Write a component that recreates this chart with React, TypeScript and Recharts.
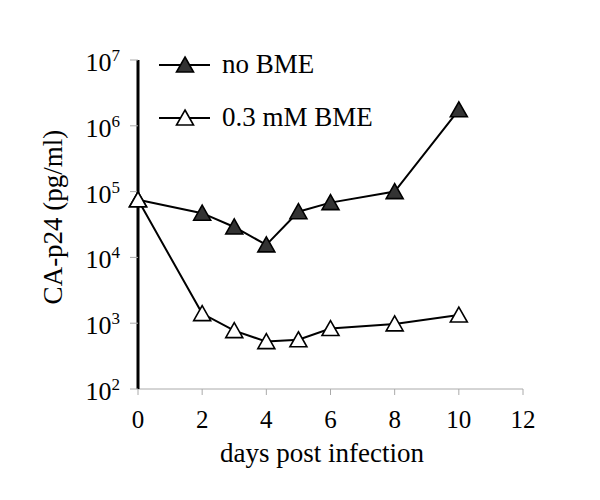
import { LineChart, Line, XAxis, YAxis } from "recharts"

const days = [0, 2, 3, 4, 5, 6, 8, 10]
const noBme = [75000, 47000, 29000, 15500, 49500, 68000, 100000, 1750000]
const bme = [75000, 1400, 770, 525, 560, 830, 975, 1330]
const xTicks = [0, 2, 4, 6, 8, 10, 12]
const yTicks = [100, 1000, 10000, 100000, 1000000, 10000000]

const data = days.map((d, i) => ({ day: d, noBme: noBme[i], bme: bme[i] }))

const FONT = "'Liberation Serif', 'Times New Roman', serif"

function Triangle(props: any) {
  const { cx, cy, fill } = props
  if (cx == null || cy == null) return null
  return (
    <polygon
      points={`${cx},${cy - 8} ${cx + 8.5},${cy + 7} ${cx - 8.5},${cy + 7}`}
      fill={fill}
      stroke="#000"
      strokeWidth={1.6}
    />
  )
}

function YTick(props: any) {
  const { x, y, payload } = props
  const exp = Math.round(Math.log10(payload.value))
  return (
    <text x={x} y={y + 11} textAnchor="end" fontFamily={FONT} fontSize={26} fill="#000">
      10
      <tspan dy={-10} fontSize={17}>{exp}</tspan>
    </text>
  )
}

function XTick(props: any) {
  const { x, y, payload } = props
  return (
    <text x={x} y={y + 33} textAnchor="middle" fontFamily={FONT} fontSize={25} fill="#000">
      {payload.value}
    </text>
  )
}

// legend drawn over the chart, no layout offset
function LegendBox() {
  const rows = [
    { label: "no BME", fill: "#333", y: 17 },
    { label: "0.3 mM BME", fill: "#fff", y: 70 },
  ]
  return (
    <svg width={260} height={95} style={{ position: "absolute", left: 140, top: 40 }}>
      {rows.map((r) => (
        <g key={r.label}>
          <line x1={11} x2={62} y1={r.y} y2={r.y} stroke="#000" strokeWidth={2} />
          <Triangle cx={37} cy={r.y} fill={r.fill} />
          <text x={74} y={r.y + 8} fontFamily={FONT} fontSize={27} fill="#000">
            {r.label}
          </text>
        </g>
      ))}
    </svg>
  )
}

export default function App() {
  return (
    <div style={{ position: "relative", width: 592, height: 492 }}>
      <LineChart
        width={592}
        height={492}
        data={data}
        margin={{ top: 52, right: 77, bottom: 71, left: 60 }}
      >
        <XAxis
          dataKey="day"
          type="number"
          domain={[0, 12]}
          ticks={xTicks}
          height={40}
          axisLine={{ stroke: "#aaa", strokeWidth: 1 }}
          tickLine={{ stroke: "#aaa" }}
          tickSize={6}
          tickMargin={0}
          tick={<XTick />}
          label={{
            content: () => (
              <text x={314} y={454} textAnchor="middle" fontFamily={FONT} fontSize={27} fill="#000">
                days post infection
              </text>
            ),
          }}
        />
        <YAxis
          scale="log"
          domain={[100, 10000000]}
          ticks={yTicks}
          allowDataOverflow
          width={70}
          axisLine={{ stroke: "#000", strokeWidth: 3 }}
          tickLine={{ stroke: "#aaa" }}
          tickSize={8}
          tickMargin={10}
          tick={<YTick />}
          label={{
            content: () => (
              <text
                x={45}
                y={209}
                transform="rotate(-90 45 209)"
                textAnchor="middle"
                dominantBaseline="central"
                fontFamily={FONT}
                fontSize={27}
                fill="#000"
              >
                CA-p24 (pg/ml)
              </text>
            ),
          }}
        />
        <Line
          dataKey="noBme"
          stroke="#000"
          strokeWidth={2}
          dot={<Triangle fill="#333" />}
          activeDot={false}
          isAnimationActive={false}
        />
        <Line
          dataKey="bme"
          stroke="#000"
          strokeWidth={2}
          dot={<Triangle fill="#fff" />}
          activeDot={false}
          isAnimationActive={false}
        />
      </LineChart>
      <LegendBox />
    </div>
  )
}
